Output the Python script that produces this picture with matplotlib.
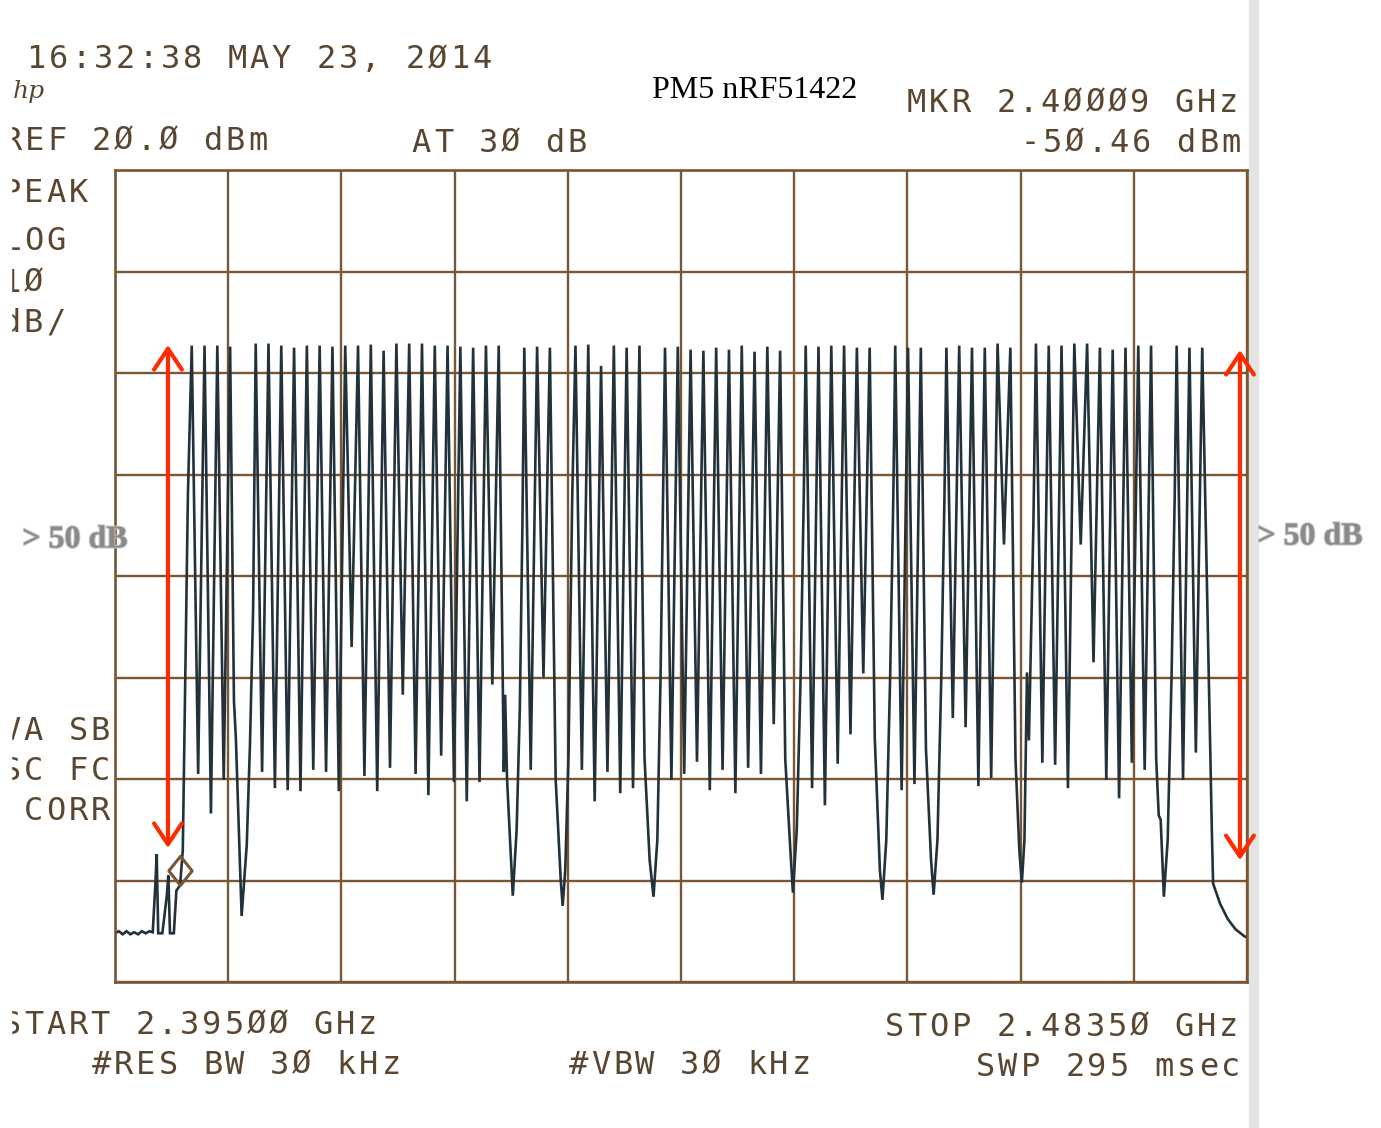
import numpy as np
import matplotlib.pyplot as plt
import matplotlib.patheffects as pe
from matplotlib.path import Path
from matplotlib.patches import Rectangle

# spectrum analyser settings (from the printout)
start_ghz = 2.395
stop_ghz = 2.4835
ref_dbm = 20.0
db_per_div = 10
marker_ghz = 2.40009
marker_dbm = -50.46

# channel peaks (MHz, dBm)
peak_mhz = [2401, 2402, 2403, 2404,
            2406, 2407, 2408, 2409, 2410, 2411, 2412, 2413, 2414, 2415,
            2416, 2417, 2418, 2419, 2420, 2421, 2422, 2423, 2424, 2425,
            2427, 2428, 2429,
            2431, 2432, 2433, 2434, 2435, 2436,
            2438, 2439, 2440, 2441, 2442, 2443, 2444, 2445, 2446, 2447,
            2449, 2450, 2451, 2452, 2453, 2454,
            2456, 2457, 2458,
            2460, 2461, 2462, 2463, 2464, 2465,
            2467, 2468, 2469, 2470, 2471, 2472, 2473, 2474, 2475, 2476,
            2478, 2479, 2480]
peak_dbm = [2.7, 2.7, 2.7, 2.6,
            2.9, 2.9, 2.7, 2.5, 2.7, 2.7, 2.6, 2.7, 2.7, 2.8,
            2.2, 2.9, 2.9, 2.9, 2.7, 2.7, 2.6, 2.5, 2.7, 2.7,
            2.5, 2.6, 2.5,
            2.7, 2.8, 0.7, 2.7, 2.5, 2.7,
            2.5, 2.6, 2.3, 2.2, 2.5, 2.3, 2.7, 2.1, 2.6, 2.2,
            2.7, 2.6, 2.7, 2.7, 2.5, 2.5,
            2.7, 2.5, 2.5,
            2.5, 2.7, 2.5, 2.5, 2.9, 2.5,
            2.9, 2.7, 2.7, 2.9, 2.9, 2.5, 2.3, 2.5, 2.7, 2.7,
            2.7, 2.5, 2.5]

# valleys between peaks, incl. the empty channels (MHz, dBm)
valleys = [(2401.5, -39.5), (2402.5, -43.4), (2403.5, -40.1),
           (2404.3, -32.3), (2404.45, -36.0), (2404.9, -53.5), (2405.3, -46.5),
           (2405.55, -36.7), (2405.8, -23.2),
           (2406.5, -39.3), (2407.5, -40.9), (2408.5, -41.1), (2409.5, -41.2),
           (2410.5, -39.1), (2411.5, -39.3), (2412.5, -41.2), (2413.5, -27.0),
           (2414.5, -39.7), (2415.5, -41.2), (2416.5, -38.9), (2417.5, -31.7),
           (2418.5, -39.5), (2419.5, -41.6), (2420.5, -37.7), (2421.5, -40.3),
           (2422.5, -42.2), (2423.5, -40.3), (2424.5, -30.7),
           (2425.4, -39.3), (2425.5, -31.7), (2425.65, -40.0), (2426.1, -51.5),
           (2426.4, -45.0), (2426.65, -33.0), (2426.85, -15.0),
           (2427.5, -39.1), (2428.5, -30.0),
           (2429.45, -40.0), (2429.85, -50.0), (2430.0, -52.5), (2430.2, -49.0),
           (2430.45, -38.0), (2430.75, -12.0),
           (2431.5, -39.1), (2432.5, -42.2), (2433.5, -39.3), (2434.5, -41.4),
           (2435.5, -40.9),
           (2436.4, -38.0), (2436.8, -48.0), (2437.1, -51.6), (2437.4, -46.0),
           (2437.65, -30.0), (2437.85, -12.0),
           (2438.5, -40.1), (2439.5, -39.5), (2440.5, -38.3), (2441.5, -41.1),
           (2442.5, -39.1), (2443.5, -41.4), (2444.5, -38.9), (2445.5, -39.5),
           (2446.5, -34.6),
           (2447.4, -38.0), (2447.8, -47.0), (2448.0, -51.2), (2448.3, -45.0),
           (2448.6, -30.0), (2448.85, -12.0),
           (2449.5, -40.9), (2450.5, -42.6), (2451.5, -38.5), (2452.5, -35.6),
           (2453.5, -29.6),
           (2454.4, -36.0), (2454.8, -49.0), (2455.0, -51.9), (2455.3, -46.0),
           (2455.6, -30.0), (2455.85, -12.0),
           (2456.5, -41.1), (2457.5, -40.5),
           (2458.4, -37.0), (2458.8, -48.0), (2459.0, -51.4), (2459.3, -46.0),
           (2459.6, -30.0), (2459.85, -12.0),
           (2460.5, -34.0), (2461.5, -34.9), (2462.5, -40.7), (2463.5, -39.9),
           (2464.5, -16.9),
           (2465.4, -38.0), (2465.7, -47.0), (2465.9, -50.2), (2466.1, -46.0),
           (2466.3, -29.5), (2466.45, -36.2), (2466.8, -15.0),
           (2467.5, -38.4), (2468.5, -38.6), (2469.5, -40.9), (2470.5, -16.9),
           (2471.5, -28.5), (2472.5, -40.1), (2473.5, -41.9), (2474.5, -38.4),
           (2475.5, -39.1),
           (2476.4, -38.0), (2476.6, -43.6), (2476.75, -44.0), (2477.0, -51.6),
           (2477.3, -46.0), (2477.6, -30.0), (2477.85, -12.0),
           (2478.5, -40.1), (2479.5, -37.4)]

# noise floor and small bursts below the band
left_edge = [(2395.0, -55.2), (2395.3, -55.0), (2395.6, -55.3), (2395.9, -55.0),
             (2396.2, -55.3), (2396.5, -55.1), (2396.8, -55.3), (2397.1, -55.0),
             (2397.4, -55.2), (2397.7, -55.0), (2397.95, -55.1), (2398.15, -50.5),
             (2398.26, -47.4), (2398.38, -55.2), (2398.7, -55.2), (2399.05, -51.5),
             (2399.17, -49.5), (2399.3, -55.2), (2399.6, -55.2), (2399.8, -51.0),
             (2400.09, -50.46), (2400.3, -47.0), (2400.7, -12.0)]
right_edge = [(2480.75, -45.0), (2480.85, -50.3), (2481.4, -52.3), (2482.0, -53.8),
              (2482.6, -54.8), (2483.3, -55.5), (2483.5, -55.6)]

# "> 50 dB" arrows (GHz, top dBm, bottom dBm)
arrow_ghz = [2.39914, 2.48295]
arrow_top = [2.76, 2.27]
arrow_bottom = [-46.8, -48.0]

pts = left_edge + list(zip(peak_mhz, peak_dbm)) + valleys + right_edge
pts.sort(key=lambda p: p[0])
trace_ghz = np.array([p[0] for p in pts]) / 1000.0
trace_dbm = np.array([p[1] for p in pts])

W, H = 1381, 1128
GRID = '#7a5634'
TXT = '#5a4630'

fig = plt.figure(figsize=(W / 100, H / 100), dpi=100)
fig.patch.set_facecolor('white')
ax = fig.add_axes([115 / W, 1 - 982 / H, (1247 - 115) / W, (982 - 170) / H])
ax.set_xlim(start_ghz, stop_ghz)
ax.set_ylim(ref_dbm - 8 * db_per_div, ref_dbm)
ax.set_xticks(np.linspace(start_ghz, stop_ghz, 11))
ax.set_yticks(np.arange(ref_dbm - 8 * db_per_div, ref_dbm + 1, db_per_div))
ax.tick_params(length=0, labelbottom=False, labelleft=False)
ax.grid(True, color=GRID, lw=1.7)
for s in ax.spines.values():
    s.set_color(GRID)
    s.set_linewidth(1.9)
ax.set_facecolor('none')

ax.plot(trace_ghz, trace_dbm, color='#22323a', lw=1.9, solid_joinstyle='miter')

# marker diamond sits with its lower corner on the trace point
diamond = Path([(0, 0), (0.8, 1), (0, 2), (-0.8, 1), (0, 0)],
               [Path.MOVETO, Path.LINETO, Path.LINETO, Path.LINETO, Path.CLOSEPOLY])
ax.plot([marker_ghz], [marker_dbm], marker=diamond, ms=42, mfc='none',
        mec=GRID, mew=2.2, zorder=5)

for x, t, b in zip(arrow_ghz, arrow_top, arrow_bottom):
    ax.annotate('', xy=(x, t), xytext=(x, b), annotation_clip=False,
                arrowprops=dict(arrowstyle='<->,head_length=0.75,head_width=0.5',
                                color='#ff2a00', lw=3.0, mutation_scale=20,
                                shrinkA=0, shrinkB=0))

CELL = 22.3


def hp_text(x, y, s, right=False):
    # plotter text: fixed cells, y is the middle of the capitals
    if right:
        x = x - CELL * len(s)
    for i, ch in enumerate(s):
        if ch != ' ':
            fig.text((x + CELL * (i + 0.5)) / W, 1 - (y + 11.5) / H, ch,
                     ha='center', va='baseline', fontsize=23,
                     family='DejaVu Sans Mono', color=TXT)


hp_text(25, 57, '16:32:38 MAY 23, 2Ø14')
hp_text(1240, 100, 'MKR 2.4ØØØ9 GHz', right=True)
hp_text(1, 138, 'REF 2Ø.Ø dBm')
hp_text(410, 140, 'AT 3Ø dB')
hp_text(1242, 140, '-5Ø.46 dBm', right=True)
hp_text(0, 190, 'PEAK')
hp_text(0, 238, 'LOG')
hp_text(0, 280, '1Ø')
hp_text(0, 320, 'dB/')
hp_text(0, 728, 'VA SB')
hp_text(0, 768, 'SC FC')
hp_text(0, 808, ' CORR')
hp_text(0, 1022, 'START 2.395ØØ GHz')
hp_text(90, 1062, '#RES BW 3Ø kHz')
hp_text(567, 1062, '#VBW 3Ø kHz')
hp_text(1240, 1024, 'STOP 2.4835Ø GHz', right=True)
hp_text(1242, 1064, 'SWP 295 msec', right=True)

fig.text(13 / W, 1 - 98 / H, 'hp', fontsize=18, style='italic', family='DejaVu Serif',
         color=TXT)

fig.text(755 / W, 1 - 90 / H, 'PM5 nRF51422', family='Liberation Serif', fontsize=23,
         ha='center', va='center', color='black')

for x, y in [(75, 540), (1310, 537)]:
    fig.text(x / W, 1 - y / H, '> 50 dB', family='Liberation Serif', weight='bold',
             fontsize=23, ha='center', va='center', color='#8a8a8a',
             path_effects=[pe.withStroke(linewidth=1.5, foreground='#c4c4c4')])

# edges of the scanned page
fig.patches.append(Rectangle((0, 0), 11 / W, 1, transform=fig.transFigure,
                             color='white', zorder=10))
fig.patches.append(Rectangle((1249 / W, 0), 9 / W, 1, transform=fig.transFigure,
                             color='#e4e4e4', zorder=-1))

fig.savefig('out.png', dpi=100, facecolor='white')
